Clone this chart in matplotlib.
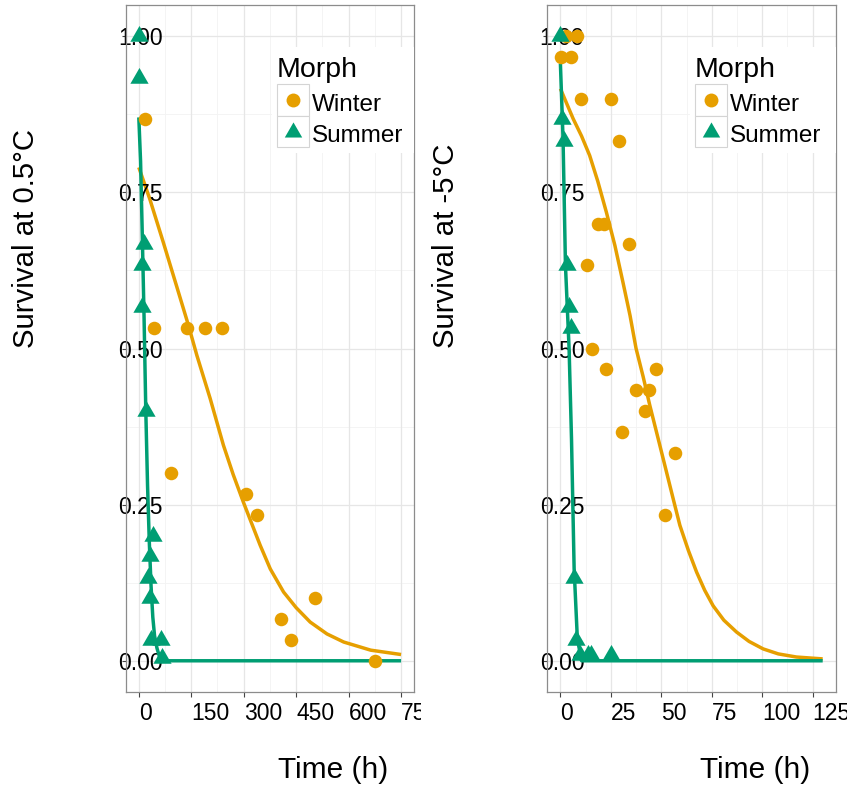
import matplotlib
matplotlib.use('Agg')
import matplotlib.pyplot as plt
from matplotlib.patches import Rectangle
from matplotlib.transforms import Bbox, TransformedBbox

plt.rcParams['font.family'] = ['Liberation Sans', 'DejaVu Sans']

WINTER = '#E69F00'
SUMMER = '#009E73'

# ---- panel 1: 0.5 C ----
w1_x = [19, 44, 139, 189, 237, 91, 307, 338, 406, 435, 504, 674]
w1_y = [0.867, 0.533, 0.533, 0.533, 0.533, 0.3, 0.267, 0.233, 0.067, 0.033, 0.1, 0.0]
s1_x = [0, 0, 15, 10, 10, 20, 41, 31, 27, 31, 36, 63, 65]
s1_y = [1.0, 0.933, 0.667, 0.633, 0.567, 0.4, 0.2, 0.167, 0.133, 0.1, 0.033, 0.033, 0.005]
# fitted curves
w1_fit_x = [0, 31, 70, 108, 142, 166, 204, 242, 270, 299, 347, 376, 414, 450, 490, 538, 586,
            663, 750]
w1_fit_y = [0.79, 0.74, 0.67, 0.60, 0.537, 0.489, 0.42, 0.345, 0.298, 0.254, 0.185, 0.147, 0.11,
            0.085, 0.062, 0.043, 0.03, 0.017, 0.01]
s1_fit_x = [0, 5, 10, 15, 20, 25, 30, 35, 40, 45, 52, 60, 70, 750]
s1_fit_y = [0.87, 0.80, 0.68, 0.55, 0.40, 0.28, 0.19, 0.12, 0.07, 0.04, 0.02, 0.005, 0.0, 0.0]

# ---- panel 2: -5 C ----
w2_x = [0.5, 5, 3, 8, 10, 25, 29, 18.7, 21.5, 34, 13, 15.7, 22.8, 37.7, 44, 47.3, 41.8, 30.7, 57, 52]
w2_y = [0.967, 0.967, 1.0, 1.0, 0.9, 0.9, 0.833, 0.7, 0.7, 0.667, 0.633, 0.5, 0.467, 0.433, 0.433,
        0.467, 0.4, 0.367, 0.333, 0.233]
s2_x = [0, 1, 1.6, 3.3, 4.3, 5.4, 6.7, 7.9, 9.6, 13.7, 15.4, 25]
s2_y = [1.0, 0.867, 0.833, 0.633, 0.567, 0.533, 0.133, 0.033, 0.01, 0.01, 0.01, 0.01]
w2_fit_x = [0, 6.3, 10.5, 14.5, 18.5, 22.8, 27, 31, 34.5, 37.5, 41, 44.3, 48.5, 52.6, 56, 59.2,
            63.5, 67.5, 71.5, 75.7, 81, 87.3, 93.5, 100.5, 108, 117, 130]
w2_fit_y = [0.916, 0.868, 0.84, 0.809, 0.768, 0.718, 0.665, 0.606, 0.553, 0.50, 0.455, 0.409, 0.355,
            0.302, 0.258, 0.217, 0.176, 0.142, 0.113, 0.088, 0.065, 0.046, 0.031, 0.019, 0.011,
            0.006, 0.003]
s2_fit_x = [0, 1.3, 2.5, 4.3, 5.5, 6.8, 8.4, 10.5, 130]
s2_fit_y = [0.956, 0.836, 0.633, 0.5, 0.355, 0.147, 0.035, 0.0, 0.0]

yticks = [0.0, 0.25, 0.5, 0.75, 1.0]
ytick_labels = ['0.00', '0.25', '0.50', '0.75', '1.00']
xticks1 = [0, 150, 300, 450, 600, 750]
xticks2 = [0, 25, 50, 75, 100, 125]

W, H = 847, 787
fig = plt.figure(figsize=(W / 100, H / 100), dpi=100)

# equilateral triangle marker, centred on its centroid
tri = [(-1, -0.577), (1, -0.577), (0, 1.155)]


def fx(px):
    return px / W


def fy(py):
    return 1 - py / H


def mids(t):
    return [(a + b) / 2 for a, b in zip(t[:-1], t[1:])]


def panel(left, xlim, xticks, wx, wy, sx, sy, wfx, wfy, sfx, sfy):
    ax = fig.add_axes([fx(left), fy(692), fx(288.5), 687 / H])
    ax.set_xlim(*xlim)
    ax.set_ylim(-0.05, 1.05)
    # grid drawn by hand so tick labels can sit above the data
    for v in mids(xticks) + [xticks[-1] + (xticks[1] - xticks[0]) / 2]:
        ax.axvline(v, color='#f3f3f3', lw=0.6, zorder=0.3)
    for v in mids(yticks):
        ax.axhline(v, color='#f3f3f3', lw=0.6, zorder=0.3)
    for v in xticks:
        ax.axvline(v, color='#e6e6e6', lw=0.9, zorder=0.4)
    for v in yticks:
        ax.axhline(v, color='#e6e6e6', lw=0.9, zorder=0.4)
    ax.plot(wfx, wfy, color=WINTER, lw=2.5, zorder=1.5, solid_capstyle='butt')
    ax.plot(sfx, sfy, color=SUMMER, lw=2.5, zorder=1.6, solid_capstyle='butt')
    ax.scatter(wx, wy, s=95, color=WINTER, marker='o', linewidths=0, zorder=2.2)
    ax.scatter(sx, sy, s=230, color=SUMMER, marker=tri, linewidths=0, zorder=2.3)
    ax.set_xticks(xticks)
    ax.set_xticklabels([str(t) for t in xticks], ha='left')
    ax.set_yticks(yticks)
    ax.set_yticklabels(ytick_labels, ha='left')
    ax.tick_params(axis='x', which='major', length=3.5, width=0.8, color='#444444',
                   labelsize=16.5, pad=4)
    ax.tick_params(axis='y', which='major', length=3, width=0.8, color='#444444',
                   labelsize=16.5, pad=2.5)
    for sp in ax.spines.values():
        sp.set_color('#8c8c8c')
        sp.set_linewidth(0.9)
    return ax


ax1 = panel(125.7, (-37.5, 787.5), xticks1, w1_x, w1_y, s1_x, s1_y,
            w1_fit_x, w1_fit_y, s1_fit_x, s1_fit_y)
ax2 = panel(547.3, (-6.5, 136.5), xticks2, w2_x, w2_y, s2_x, s2_y,
            w2_fit_x, w2_fit_y, s2_fit_x, s2_fit_y)

# the left panel cuts its last tick label at its own edge
clip = TransformedBbox(Bbox([[0, 0], [fx(421), 1]]), fig.transFigure)
for lab in ax1.get_xticklabels():
    lab.set_clip_box(clip)
    lab.set_clip_on(True)

# axis titles
fig.text(fx(26), fy(348), 'Survival at 0.5°C', rotation=90, ha='center', va='bottom', fontsize=21.2)
fig.text(fx(446), fy(348), 'Survival at -5°C', rotation=90, ha='center', va='bottom', fontsize=21.2)
fig.text(fx(278), fy(770), 'Time (h)', ha='left', va='center', fontsize=21.5)
fig.text(fx(700), fy(770), 'Time (h)', ha='left', va='center', fontsize=21.5)


# legends
def legend(key_left, ax_right):
    fig.patches.append(Rectangle((fx(key_left - 5), fy(153)), fx(ax_right - key_left + 4.5), 106 / H,
                                 transform=fig.transFigure, facecolor='white', edgecolor='none',
                                 zorder=3))
    fig.text(fx(key_left), fy(77), 'Morph', ha='left', va='baseline', fontsize=20.5, zorder=4)
    for i, (lab, col, mk, ms) in enumerate([('Winter', WINTER, 'o', 10), ('Summer', SUMMER, tri, 14.5)]):
        top = 84 + i * 31.5
        fig.patches.append(Rectangle((fx(key_left), fy(top + 31.5)), fx(32), 31.5 / H,
                                     transform=fig.transFigure, facecolor='white',
                                     edgecolor='#d4d4d4', lw=0.8, zorder=4))
        fig.lines.append(plt.Line2D([fx(key_left + 16)], [fy(top + 16)], transform=fig.transFigure,
                                    marker=mk, ms=ms, color=col, mew=0, ls='none', zorder=5))
        fig.text(fx(key_left + 35), fy(top + 26.7), lab, ha='left', va='baseline',
                 fontsize=17.5, zorder=5)


legend(277, 414)
legend(694.5, 836)

fig.savefig('out.png', dpi=100)
